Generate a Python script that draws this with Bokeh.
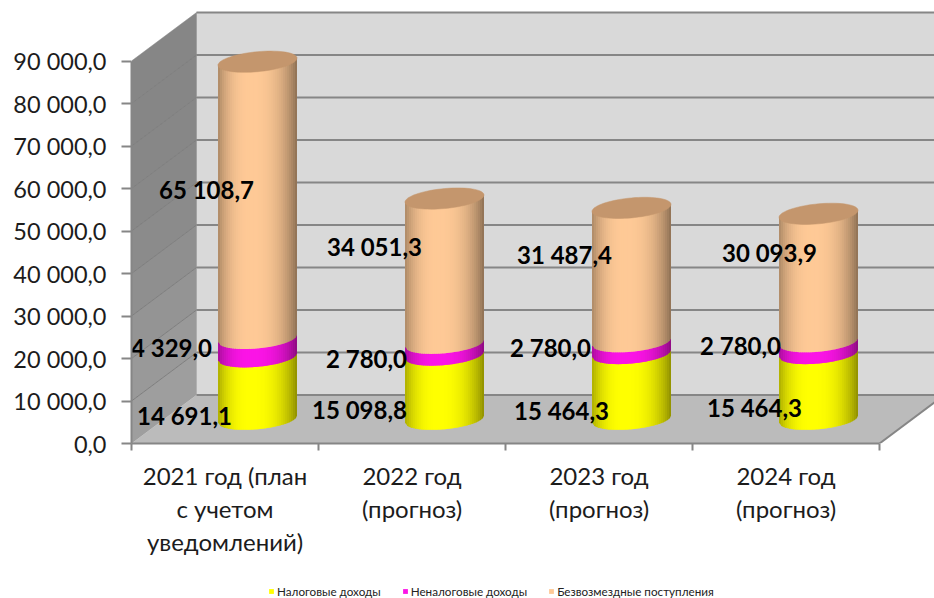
import math
from bokeh.plotting import figure
from bokeh.layouts import column
from bokeh.embed import file_html
from bokeh.resources import INLINE
from bokeh.models import Range1d, LinearAxis, FixedTicker, Legend, LegendItem, ColumnDataSource
from bokeh.core.properties import value

# ---- data
categories = ["2021 год (план\nс учетом\nуведомлений)", "2022 год\n(прогноз)", "2023 год\n(прогноз)", "2024 год\n(прогноз)"]
series_names = ["Налоговые доходы", "Неналоговые доходы", "Безвозмездные поступления"]
tax = [14691.1, 15098.8, 15464.3, 15464.3]
nontax = [4329.0, 2780.0, 2780.0, 2780.0]
grants = [65108.7, 34051.3, 31487.4, 30093.9]
y_ticks = [0, 10000, 20000, 30000, 40000, 50000, 60000, 70000, 80000, 90000]
y_tick_labels = ["0,0", "10 000,0", "20 000,0", "30 000,0", "40 000,0", "50 000,0", "60 000,0", "70 000,0", "80 000,0", "90 000,0"]
x_bounds = [0, 1, 2, 3, 4]
x_centers = [0.5, 1.5, 2.5, 3.5]

# ---- layout constants (pixels)
PX_CAT = 187.0
PX_VAL = 4.25 / 1000.0
DEPTH_PX_X = 65.0
DEPTH_PX_Y = 48.5
DX = DEPTH_PX_X / PX_CAT
DY = DEPTH_PX_Y / PX_VAL
A = 39.5 / PX_CAT
B_PX = 10.0
SHEAR = -0.09
FONT = "Lato"
GRID = "#868686"
series_colors = [(255, 255, 0), (251, 20, 230), (254, 201, 150)]
cap_color = "#c4966d"
label_off_x = [[-73, -85, -70, -64], [-86, -78, -81, -78], [-51, -70, -67, -49]]
label_off_y = [[27, 22, 24, 21], [0, 9, 0, -2], [-11, -24, -20, -25]]

W, H = 934, 584
LEG_H = 14
FRAME_L, FRAME_B = 131, 141
x_end = (W - FRAME_L) / PX_CAT
y_end = (H - FRAME_B) / PX_VAL

p = figure(width=W, height=H, output_backend="svg", toolbar_location=None,
           x_range=Range1d(0, x_end), y_range=Range1d(0, y_end),
           frame_width=W - FRAME_L, frame_height=H - FRAME_B,
           min_border_left=FRAME_L, min_border_right=0, min_border_top=0, min_border_bottom=FRAME_B,
           x_axis_type=None, y_axis_type=None, outline_line_color=None)
p.grid.visible = False
p.background_fill_color = "white"
p.border_fill_color = "white"

# walls
p.patch([DX, x_end + 1, x_end + 1, DX], [DY, DY, 90000 + DY, 90000 + DY], fill_color="#d9d9d9", line_color=None)
side_shades = ["#9e9e9e", "#999999", "#949494", "#8f8f8f", "#8b8b8b", "#888888", "#878787", "#868686", "#868686"]
for lo, hi, c in zip(y_ticks[:-1], y_ticks[1:], side_shades):
    p.patch([0, DX, DX, 0], [lo, lo + DY, hi + DY, hi], fill_color=c, line_color=c, line_width=0.5)
p.patch([0, 4, 4 + DX, DX], [0, 0, DY, DY], fill_color="#bbbbbb", line_color=None)
p.line([4, 4 + DX], [0, DY], line_color=GRID, line_width=2)

# grid lines
p.multi_line([[DX, x_end] for t in y_ticks], [[t + DY, t + DY] for t in y_ticks], line_color=GRID, line_width=2)
p.multi_line([[0, DX] for t in y_ticks[1:-1]], [[t, t + DY] for t in y_ticks[1:-1]], line_color="#7f7f7f", line_width=1)


def shade(rgb, u):
    if u < 0.42:
        d, e = (0.42 - u) / 0.42, 0.68
    else:
        d, e = (u - 0.42) / 0.58, 0.56
    f = 1 - (1 - e) * d ** 2.6
    return "#%02x%02x%02x" % tuple(int(round(c * f)) for c in rgb)


def arc(cx, v, u, sign):
    n = min(1.0, 2 * u - 1)
    x = cx + A * n
    ypx = sign * B_PX * math.sqrt(max(0.0, 1 - n * n)) + SHEAR * 39.5 * n
    return x, v - ypx / PX_VAL


N = 40
OVERLAP = 0.6 / N
TOP_EXTRA = 1.0 / PX_VAL
xs, ys, cols = [], [], []
cap_x, cap_y = [], []
label_x, label_y, label_t, label_ox, label_oy = [], [], [], [], []
for i in range(len(tax)):
    cx = i + 0.5 + DX / 2
    base = DY / 2
    for s, vals in enumerate([tax, nontax, grants]):
        v = vals[i]
        for j in range(N):
            u0, u1 = j / N, min(1.0, (j + 1) / N + OVERLAP)
            a0 = arc(cx, base, u0, 1); a1 = arc(cx, base, u1, 1)
            b1 = arc(cx, base + v + TOP_EXTRA, u1, 1); b0 = arc(cx, base + v + TOP_EXTRA, u0, 1)
            xs.append([a0[0], a1[0], b1[0], b0[0]])
            ys.append([a0[1], a1[1], b1[1], b0[1]])
            cols.append(shade(series_colors[s], (2 * j + 1) / (2 * N)))
        txt = f"{v:,.1f}".replace(",", " ").replace(".", ",")
        label_x.append(cx); label_y.append(base + v / 2); label_t.append(txt)
        label_ox.append(label_off_x[s][i]); label_oy.append(label_off_y[s][i])
        base += v
    top = [math.pi * 2 * k / 72 for k in range(72)]
    cap_x.append([cx + A * math.cos(t) for t in top])
    cap_y.append([base - (B_PX * math.sin(t) + SHEAR * 39.5 * math.cos(t)) / PX_VAL for t in top])

p.patches(xs, ys, fill_color=cols, line_color=None)
p.patches(cap_x, cap_y, fill_color=cap_color, line_color=cap_color, line_width=0.5)

src = ColumnDataSource(dict(x=label_x, y=label_y, t=label_t, ox=label_ox, oy=label_oy))
p.text("x", "y", text="t", source=src, x_offset="ox", y_offset="oy", text_align="center", text_baseline="middle",
       text_font=value(FONT), text_font_style="bold", text_font_size="24px", text_color="#000000")

# axes
yax = LinearAxis(ticker=FixedTicker(ticks=y_ticks), major_label_overrides=dict(zip(y_ticks, y_tick_labels)),
                 bounds=(0, 90000), axis_line_color=GRID, axis_line_width=2, major_tick_line_color=GRID,
                 major_tick_line_width=2, major_tick_out=10, major_tick_in=0, minor_tick_line_color=None,
                 major_label_standoff=15, major_label_text_font=FONT, major_label_text_font_size="23.5px",
                 major_label_text_color="#1c1c1c")
p.add_layout(yax, "left")
xax = LinearAxis(ticker=FixedTicker(ticks=x_centers, minor_ticks=x_bounds),
                 major_label_overrides=dict(zip(x_centers, categories)), bounds=(0, 4),
                 axis_line_color=GRID, axis_line_width=2, major_tick_line_color=None, major_tick_out=0, major_tick_in=0,
                 minor_tick_line_color=GRID, minor_tick_line_width=2, minor_tick_out=7, minor_tick_in=0,
                 major_label_standoff=10, major_label_text_font=FONT, major_label_text_font_size="24px",
                 major_label_text_line_height=1.15, major_label_text_color="#1c1c1c")
p.add_layout(xax, "below")

# legend in its own strip below the chart; its swatch glyphs sit outside the strip's ranges
q = figure(width=W, height=LEG_H, output_backend="svg", toolbar_location=None,
           x_range=Range1d(0, W), y_range=Range1d(0, LEG_H), x_axis_type=None, y_axis_type=None,
           outline_line_color=None, min_border=0)
q.grid.visible = False
rs = []
for rgb in series_colors:
    rs.append(q.quad(left=[-20], right=[-10], top=[-10], bottom=[-20], fill_color="#%02x%02x%02x" % rgb, line_color=None))
leg = Legend(items=[LegendItem(label=n, renderers=[r]) for n, r in zip(series_names, rs)],
             orientation="horizontal", location=(137, 0), padding=0, margin=0, spacing=21,
             glyph_width=6, glyph_height=6, label_standoff=3, label_height=8,
             background_fill_alpha=0, border_line_color=None,
             label_text_font=FONT, label_text_font_size="11.7px", label_text_color="#222222")
q.add_layout(leg, "center")

open("out.html", "w").write(file_html(column(p, q, spacing=0), INLINE))
